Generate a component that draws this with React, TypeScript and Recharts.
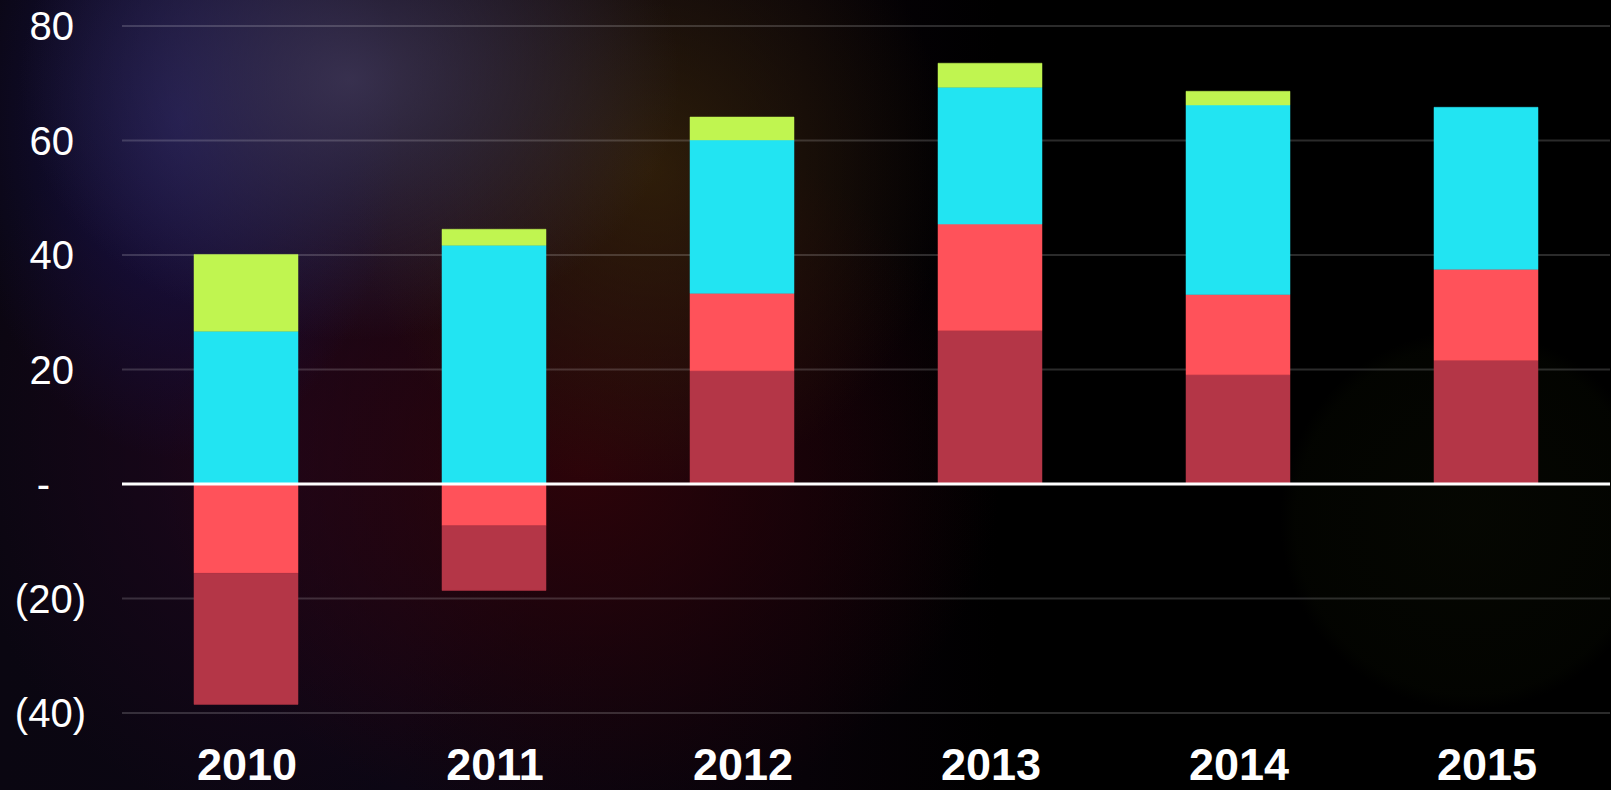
import React from 'react';
import {
  BarChart,
  Bar,
  XAxis,
  YAxis,
  CartesianGrid,
  ReferenceLine
} from 'recharts';

const years = ['2010', '2011', '2012', '2013', '2014', '2015'];
const darkRed = [-22.9, -11.3, 19.8, 26.8, 19.1, 21.6];
const red = [-15.6, -7.3, 13.5, 18.6, 14.0, 15.9];
const cyan = [26.7, 41.7, 26.8, 23.9, 33.1, 28.3];
const lime = [13.4, 2.8, 4.0, 4.2, 2.4, 0];
const yTicks = [-40, -20, 0, 20, 40, 60, 80];

// red sits next to the zero line on the negative side, so it is split in two
const chartData = years.map((year, i) => ({
  year,
  redNeg: Math.min(red[i], 0),
  darkRed: darkRed[i],
  redPos: Math.max(red[i], 0),
  cyan: cyan[i],
  lime: lime[i],
}));

const fmt = (v: number) => (v === 0 ? '-' : v < 0 ? `(${Math.abs(v)})` : `${v}`);

const YTick = ({ x, y, payload }: any) => {
  const v = payload.value;
  // accounting-style alignment: positives leave room for ")"
  const shift = v === 0 ? 72 : v < 0 ? 36 : 48;
  return (
    <text
      x={x - shift}
      y={y}
      dy="0.36em"
      textAnchor="end"
      fill="#ffffff"
      fontSize={40}
      fontFamily="'Liberation Sans', Arial, sans-serif"
    >
      {fmt(v)}
    </text>
  );
};

const XTick = ({ x, y, payload }: any) => (
  <text
    x={x + 1}
    y={y}
    dy={67}
    textAnchor="middle"
    fill="#ffffff"
    fontSize={45}
    fontWeight="bold"
    fontFamily="'Liberation Sans', Arial, sans-serif"
  >
    {payload.value}
  </text>
);

const background = [
  'radial-gradient(ellipse 330px 260px at 350px 80px, rgba(66,58,90,0.8), rgba(66,58,90,0) 100%)',
  'radial-gradient(ellipse 220px 340px at 180px 120px, rgba(26,22,90,0.8), rgba(26,22,90,0) 100%)',
  'radial-gradient(ellipse 300px 320px at 650px 170px, rgba(60,40,8,0.7), rgba(60,40,8,0) 100%)',
  'radial-gradient(ellipse 420px 360px at 580px 470px, rgba(50,3,8,0.85), rgba(50,3,8,0) 100%)',
  'radial-gradient(ellipse 300px 380px at 260px 440px, rgba(34,6,30,0.75), rgba(34,6,30,0) 100%)',
  'radial-gradient(circle 190px at 1470px 520px, rgba(7,9,2,0.75), rgba(5,7,1,0.55) 92%, rgba(0,0,0,0) 100%)',
  'linear-gradient(90deg, #0a0611 0%, #0c0614 25%, #070208 50%, #000000 62%, #000000 100%)',
].join(', ');

export default function App() {
  return (
    <div
      style={{
        position: 'fixed',
        left: 0,
        top: 0,
        width: 1611,
        height: 790,
        background,
        overflow: 'hidden',
      }}
    >
      <BarChart
        width={1611}
        height={790}
        data={chartData}
        stackOffset="sign"
        margin={{ top: 26, right: 1, bottom: 0, left: 0 }}
      >
        <CartesianGrid
          horizontal
          vertical={false}
          stroke="rgba(255,255,255,0.17)"
          strokeWidth={2}
        />
        <XAxis
          dataKey="year"
          axisLine={false}
          tickLine={false}
          tickSize={0}
          tickMargin={0}
          height={77}
          interval={0}
          tick={<XTick />}
        />
        <YAxis
          domain={[-40, 80]}
          ticks={yTicks}
          axisLine={false}
          tickLine={false}
          tickSize={0}
          tickMargin={0}
          width={122}
          interval={0}
          tick={<YTick />}
        />
        <Bar dataKey="redNeg" stackId="a" fill="#FF525A" stroke="#FF525A" strokeWidth={0.5} barSize={104} isAnimationActive={false} />
        <Bar dataKey="darkRed" stackId="a" fill="#B43647" stroke="#B43647" strokeWidth={0.5} barSize={104} isAnimationActive={false} />
        <Bar dataKey="redPos" stackId="a" fill="#FF525A" stroke="#FF525A" strokeWidth={0.5} barSize={104} isAnimationActive={false} />
        <Bar dataKey="cyan" stackId="a" fill="#22E4F2" stroke="#22E4F2" strokeWidth={0.5} barSize={104} isAnimationActive={false} />
        <Bar dataKey="lime" stackId="a" fill="#C0F550" stroke="#C0F550" strokeWidth={0.5} barSize={104} isAnimationActive={false} />
        <ReferenceLine y={0} stroke="#ffffff" strokeWidth={3} />
      </BarChart>
    </div>
  );
}
